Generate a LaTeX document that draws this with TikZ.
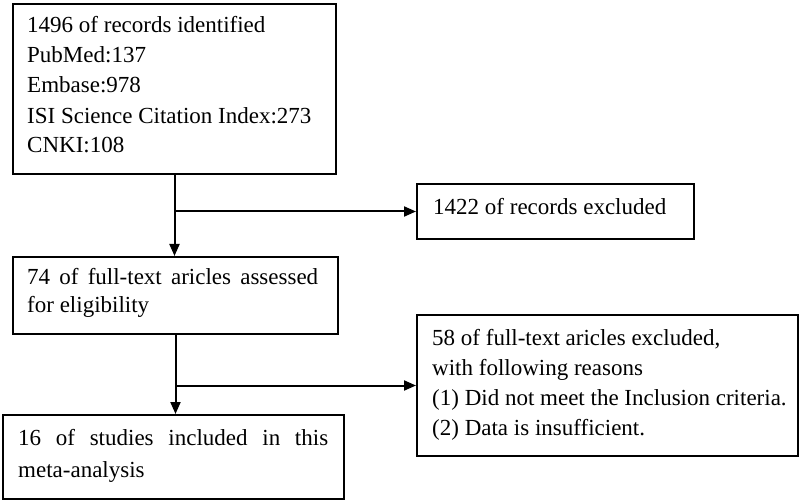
\documentclass[tikz,border=0pt]{standalone}
\usepackage{fontspec}
\setmainfont{Liberation Serif}
\usetikzlibrary{arrows.meta}
\begin{document}
\begin{tikzpicture}[x=1pt,y=1pt,
  boxst/.style={draw=black,line width=2pt,rectangle,inner sep=0pt},
  txt/.style={anchor=base west,inner sep=0pt,font=\fontsize{23}{30}\selectfont,text=black},
  arr/.style={line width=2pt,-{Triangle[length=12pt,width=10pt]}}]
\useasboundingbox (0,0) rectangle (800,-502);
% boxes
\node[boxst,minimum width=323pt,minimum height=170pt,anchor=north west] (b1) at (12,-3) {};
\node[boxst,minimum width=277pt,minimum height=55pt,anchor=north west] (ex1) at (416,-183) {};
\node[boxst,minimum width=325pt,minimum height=77pt,anchor=north west] (b2) at (12,-256) {};
\node[boxst,minimum width=341pt,minimum height=84pt,anchor=north west] (b3) at (1.5,-414) {};
\node[boxst,minimum width=381pt,minimum height=141pt,anchor=north west] (ex2) at (416,-314) {};
% texts
\node[txt] (t11) at (27,-33) {1496 of records identified};
\node[txt] (t12) at (27,-63) {PubMed:137};
\node[txt] (t13) at (27,-93) {Embase:978};
\node[txt] (t14) at (27,-124) {ISI Science Citation Index:273};
\node[txt] (t15) at (27,-153) {CNKI:108};
\node[txt] (te1) at (433,-215) {1422 of records excluded};
\node[txt] (t21) at (27,-285) {\makebox[291pt][s]{74 of full-text aricles assessed}};
\node[txt] (t22) at (27,-313) {for eligibility};
\node[txt] (t31) at (18,-445) {\makebox[310pt][s]{16 of studies included in this}};
\node[txt] (t32) at (18,-477) {meta-analysis};
\node[txt] (te21) at (432,-345) {58 of full-text aricles excluded,};
\node[txt] (te22) at (432,-375) {with following reasons};
\node[txt] (te23) at (432,-405) {(1) Did not meet the Inclusion criteria.};
\node[txt] (te24) at (432,-435) {(2) Data is insufficient.};
% connectors
\draw[arr] (b1.south) -- (b1.south |- b2.north);
\draw[arr] (b1.south |- ex1.west) -- (ex1.west);
\draw[arr] (b2.south) -- (b2.south |- b3.north);
\draw[arr] (b2.south |- ex2.west) -- (ex2.west);
\end{tikzpicture}
\end{document}
